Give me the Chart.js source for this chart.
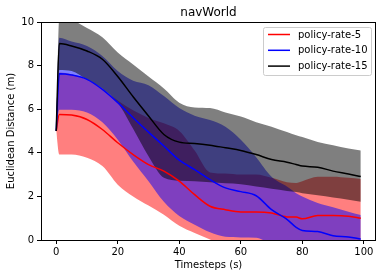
<!DOCTYPE html>
<html><head><meta charset="utf-8">
<script src="https://cdn.jsdelivr.net/npm/chart.js@4.4.1/dist/chart.umd.min.js"></script>
<style>html,body{margin:0;padding:0;background:#fff;}canvas{display:block;}</style>
</head><body>
<canvas id="c" width="386" height="278" style="width:386px;height:278px"></canvas>
<script>
const chartTitle = 'navWorld';
const xAxisLabel = 'Timesteps (s)';
const yAxisLabel = 'Euclidean Distance (m)';
const seriesLabels = ['policy-rate-5', 'policy-rate-10', 'policy-rate-15'];
const xTickValues = [0, 20, 40, 60, 80, 100];
const yTickValues = [0, 2, 4, 6, 8, 10];

const timesteps = [0,1,5,10,15,20,25,30,35,40,45,50,55,60,65,70,75,78,80,85,90,95,99];

const rate5Mean = [5.0,5.76,5.73,5.53,5.07,4.46,3.92,3.46,3.16,2.70,2.08,1.55,1.39,1.29,1.29,1.24,1.06,1.05,0.97,1.12,1.12,1.09,1.0];
const rate5Low  = [5.0,3.92,3.92,3.77,3.39,2.54,2.0,1.58,1.16,0.65,0.32,0.02,-0.3,-0.45,-0.5,-0.45,-0.5,-0.5,-0.65,-0.65,-0.7,-0.7,-0.8];
const rate5High = [5.0,7.68,7.6,7.35,6.95,6.4,5.95,5.6,5.35,5.0,4.1,3.1,3.05,3.0,3.0,2.85,2.65,2.62,2.7,2.9,2.9,2.85,2.8];

const rate10Mean = [5.0,7.63,7.57,7.37,6.91,6.30,5.61,4.95,4.31,3.66,3.23,2.77,2.39,2.22,2.03,1.39,0.95,0.58,0.44,0.39,0.2,0.14,0.04];
const rate10Low  = [5.0,5.98,5.98,5.85,5.4,4.6,3.6,2.7,1.75,1.1,0.7,0.35,0.15,0.12,0.1,-0.2,-0.5,-0.9,-1.0,-1.0,-1.1,-1.0,-1.05];
const rate10High = [5.0,9.28,9.1,8.9,8.44,7.75,7.3,7.1,6.6,6.05,5.7,5.5,5.2,4.6,3.8,2.9,2.45,2.15,2.0,1.7,1.5,1.3,1.15];

const rate15Mean = [5.0,9.01,8.9,8.67,8.29,7.5,6.57,5.69,4.84,4.49,4.43,4.35,4.23,4.11,3.92,3.69,3.57,3.46,3.39,3.34,3.16,3.03,2.91];
const rate15Low  = [5.0,7.8,7.75,7.35,6.95,6.3,5.1,3.84,2.85,2.72,2.7,2.65,2.6,2.56,2.45,2.35,2.25,2.2,2.15,2.05,1.95,1.85,1.76];
const rate15High = [5.0,10.22,10.1,9.72,9.3,8.6,8.05,7.5,6.95,6.3,6.08,6.05,5.85,5.66,5.4,5.2,4.95,4.8,4.72,4.5,4.35,4.2,4.1];

const lineColors = ['rgb(255,0,0)', 'rgb(0,0,255)', 'rgb(0,0,0)'];
const bandColors = ['rgba(255,0,0,0.5)', 'rgba(0,0,255,0.5)', 'rgba(0,0,0,0.5)'];

const pts = arr => timesteps.map((t, i) => ({x: t, y: arr[i]}));
const FONT = "'DejaVu Sans', sans-serif";

function band(hi, lo, k) {
  return [
    {data: pts(hi), fill: '+1', backgroundColor: bandColors[k], borderWidth: 0, pointRadius: 0, order: 12 - k, cubicInterpolationMode: 'monotone'},
    {data: pts(lo), fill: false, borderWidth: 0, pointRadius: 0, order: 20, cubicInterpolationMode: 'monotone'}
  ];
}
function line(mean, k) {
  return {label: seriesLabels[k], data: pts(mean), fill: false, borderColor: lineColors[k], borderWidth: 1.5,
          pointRadius: 0, order: 2 - k, cubicInterpolationMode: 'monotone'};
}

const datasets = [
  ...band(rate5High, rate5Low, 0),
  ...band(rate10High, rate10Low, 1),
  ...band(rate15High, rate15Low, 2),
  line(rate5Mean, 0), line(rate10Mean, 1), line(rate15Mean, 2)
];

const decor = {
  id: 'decor',
  afterDraw(chart) {
    const ctx = chart.ctx, a = chart.chartArea;
    ctx.save();
    ctx.strokeStyle = '#000'; ctx.lineWidth = 1;
    ctx.strokeRect(Math.round(a.left) + 0.5, Math.round(a.top) + 0.5, Math.round(a.right - a.left) - 1, Math.round(a.bottom - a.top));
    ctx.fillStyle = '#000';
    ctx.font = '12px ' + FONT;
    ctx.textAlign = 'center'; ctx.textBaseline = 'middle';
    ctx.fillText(chartTitle, (a.left + a.right) / 2, 13);
    // legend
    const bx = 263, by = 27, bw = 108, bh = 48;
    ctx.fillStyle = 'rgba(255,255,255,0.8)';
    ctx.strokeStyle = '#cccccc';
    ctx.beginPath();
    ctx.roundRect(bx + 0.5, by + 0.5, bw, bh, 2);
    ctx.fill(); ctx.stroke();
    ctx.font = '10px ' + FONT;
    ctx.textAlign = 'left';
    const lineDs = chart.data.datasets.filter(d => d.label);
    lineDs.forEach((d, i) => {
      const y = 34.5 + i * 15.8;
      ctx.strokeStyle = d.borderColor; ctx.lineWidth = 1.5;
      ctx.beginPath(); ctx.moveTo(268, y); ctx.lineTo(290, y); ctx.stroke();
      ctx.fillStyle = '#000';
      ctx.fillText(d.label, 298, y + 0.5);
    });
    ctx.restore();
  }
};

new Chart(document.getElementById('c'), {
  type: 'line',
  data: {datasets},
  options: {
    responsive: false, animation: false, devicePixelRatio: 1,
    layout: {padding: {top: 22, right: 10, left: 0, bottom: 0}},
    plugins: {legend: {display: false}, tooltip: {enabled: false}, title: {display: false},
              filler: {drawTime: 'beforeDatasetsDraw', propagate: false}},
    scales: {
      x: {
        type: 'linear', min: -4.95, max: 103.95,
        afterFit: s => { s.height = 38; },
        afterBuildTicks: s => { s.ticks = xTickValues.map(v => ({value: v})); },
        border: {display: false},
        grid: {drawOnChartArea: false, drawTicks: true, tickLength: 4, color: '#000', lineWidth: 1},
        ticks: {color: '#000', font: {family: FONT, size: 10}, padding: 2, maxRotation: 0},
        title: {display: true, text: xAxisLabel, color: '#000', font: {family: FONT, size: 10}, padding: {top: 0, bottom: 7}}
      },
      y: {
        type: 'linear', min: 0, max: 10,
        afterFit: s => { s.width = 41; },
        afterBuildTicks: s => { s.ticks = yTickValues.map(v => ({value: v})); },
        border: {display: false},
        grid: {drawOnChartArea: false, drawTicks: true, tickLength: 4, color: '#000', lineWidth: 1},
        ticks: {color: '#000', font: {family: FONT, size: 10}, padding: 3},
        title: {display: true, text: yAxisLabel, color: '#000', font: {family: FONT, size: 10}, padding: {top: 5, bottom: 0}}
      }
    }
  },
  plugins: [decor]
});
</script>
</body></html>
